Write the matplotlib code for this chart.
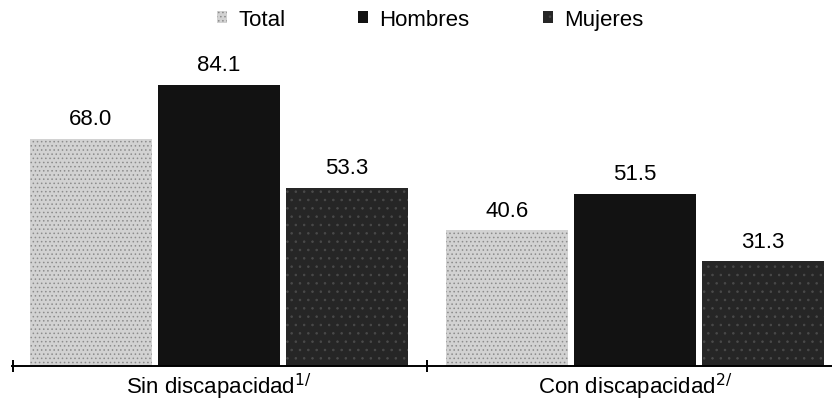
import matplotlib
matplotlib.use('Agg')
import numpy as np
from matplotlib import pyplot as plt
from matplotlib.patches import Patch

plt.rcParams['font.family'] = ['Liberation Sans', 'DejaVu Sans']
plt.rcParams['hatch.linewidth'] = 0.6

# data
categories = ['Sin discapacidad$^{1/}$', 'Con discapacidad$^{2/}$']
series = ['Total', 'Hombres', 'Mujeres']
values = {
    'Total': [68.0, 40.6],
    'Hombres': [84.1, 51.5],
    'Mujeres': [53.3, 31.3],
}
colours = {'Total': '#d2d2d2', 'Hombres': '#121212', 'Mujeres': '#262626'}
hatches = {'Total': '....', 'Hombres': None, 'Mujeres': '..'}
hatch_col = {'Total': '#8c8c8c', 'Hombres': '#121212', 'Mujeres': '#4a4a4a'}

fig = plt.figure(figsize=(8.32, 4.02), dpi=100)
ax = fig.add_axes([12 / 832, 35 / 402, 1 - 12 / 832, 327 / 402])

x = np.arange(len(categories))
step = 0.3077
width = 0.291
for i, s in enumerate(series):
    pos = x + (i - 1) * step
    bars = ax.bar(pos, values[s], width=width, color=colours[s], label=s,
                  hatch=hatches[s], edgecolor=hatch_col[s], linewidth=0)
    for b, v in zip(bars, values[s]):
        ax.annotate(f'{v:.1f}', (b.get_x() + b.get_width() / 2, v),
                    xytext=(0, 10.5), textcoords='offset points',
                    ha='center', va='baseline', fontsize=16)

for sp in ['top', 'right', 'left']:
    ax.spines[sp].set_visible(False)
ax.spines['bottom'].set_linewidth(1.4)
ax.set_yticks([])

ax.set_xticks(x)
ax.set_xticklabels(categories, fontsize=16)
ax.tick_params(axis='x', which='major', length=0, pad=3.5)
# group separators (set_ticks widens the view, so limits are set afterwards)
ax.set_xticks([-0.496, 0.5], minor=True)
ax.tick_params(axis='x', which='minor', direction='inout', length=8, width=1.4)

ax.set_xlim(-0.4976, 1.4736)
ax.set_ylim(0, 97.76)

handles = [Patch(facecolor=colours[s], hatch=hatches[s], edgecolor=hatch_col[s],
                 linewidth=0, label=s) for s in series]
fig.legend(handles=handles, loc='upper center', bbox_to_anchor=(0.517, 1.025), ncol=3,
           frameon=False, fontsize=16, handlelength=0.45, handleheight=0.45,
           handletextpad=0.5, columnspacing=3.3)

plt.savefig('out.png', dpi=100)
